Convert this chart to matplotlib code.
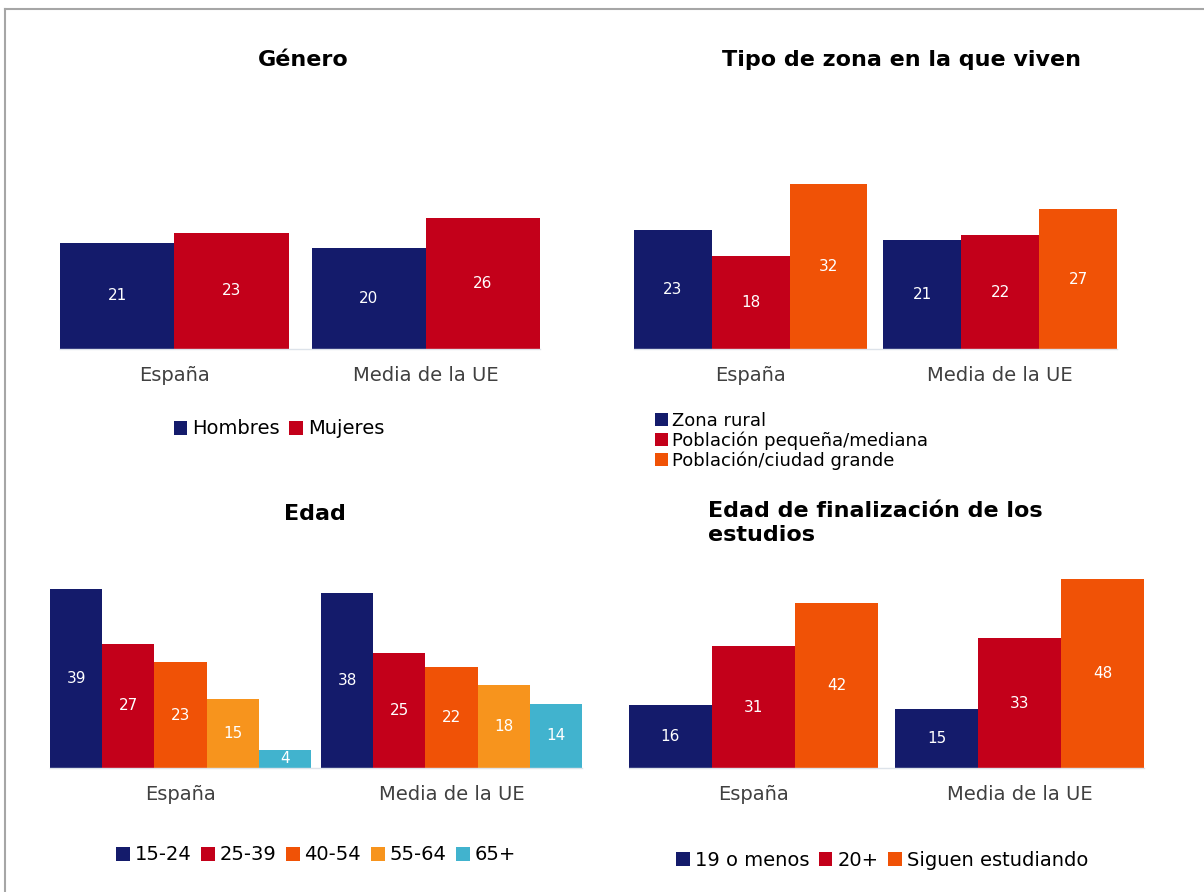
#---- Imports ----------------------------------------------------------------#

import numpy as np
import matplotlib
matplotlib.use('Agg')
import matplotlib.pyplot as plt
from matplotlib.patches import Patch
from matplotlib.lines import Line2D

#---- Data -------------------------------------------------------------------#

grupos = ['España', 'Media de la UE']

genero_series = ['Hombres', 'Mujeres']
genero_vals = [[21, 20], [23, 26]]

zona_series = ['Zona rural', 'Población pequeña/mediana', 'Población/ciudad grande']
zona_vals = [[23, 21], [18, 22], [32, 27]]

edad_series = ['15-24', '25-39', '40-54', '55-64', '65+']
edad_vals = [[39, 38], [27, 25], [23, 22], [15, 18], [4, 14]]

estudios_series = ['19 o menos', '20+', 'Siguen estudiando']
estudios_vals = [[16, 15], [31, 33], [42, 48]]

#---- Style ------------------------------------------------------------------#

NAVY = '#141B6B'
RED = '#C3001A'
ORANGE = '#F05206'
LORANGE = '#F7941D'
CYAN = '#41B3CE'

W, H = 1204, 892                        #Figure size in pixels

plt.rcParams['font.family'] = ['DejaVu Sans']

fig = plt.figure(figsize=(W/100, H/100), dpi=100)

#---- Helper: one panel of grouped bars, placed in pixel coords -------------#

def panel(vals, colors, left, right, gap, base, scale, ymax=50):
    n = len(vals)
    total = right - left
    group_px = (total - gap) / 2.0
    spacing = group_px + gap                #1 data unit in pixels
    w = group_px / n / spacing              #Bar width in data units
    half = n * w / 2.0
    ax = fig.add_axes([left/W, (H-base)/H, total/W, ymax*scale/H])
    ax.set_xlim(-half, 1 + half)
    ax.set_ylim(0, ymax)
    x0 = np.arange(len(grupos))
    for i, v in enumerate(vals):
        x = x0 + (i - (n - 1) / 2.0) * w
        bars = ax.bar(x, v, w, color=colors[i], linewidth=0)
        for b, val in zip(bars, v):
            ax.text(b.get_x() + b.get_width()/2, val/2.0, str(val),
                    ha='center', va='center', color='white', fontsize=11)
    ax.set_xticks(x0, grupos)
    ax.tick_params(axis='x', length=0, pad=12, labelsize=14, labelcolor='#404040')
    ax.set_yticks([])
    for s in ['top', 'right', 'left']:
        ax.spines[s].set_visible(False)
    ax.spines['bottom'].set_color('#DDE3EA')
    ax.spines['bottom'].set_linewidth(1)
    ax.patch.set_alpha(0)
    return ax

def legend(labels, colors, x, y, ncol, loc='center', size=14, spacing=0.5):
    handles = [Patch(facecolor=c, edgecolor='none') for c in colors]
    fig.legend(handles, labels, loc=loc, bbox_to_anchor=(x/W, 1 - y/H),
               ncol=ncol, frameon=False, fontsize=size,
               handlelength=0.7, handleheight=0.7, handletextpad=0.25,
               columnspacing=0.5, labelspacing=spacing, borderaxespad=0,
               borderpad=0)

#---- Panels -----------------------------------------------------------------#

panel(genero_vals, [NAVY, RED], 60, 540, 23, 349, 5.05)
fig.text(303/W, 1 - 60/H, 'Género', ha='center', va='center',
         fontsize=16, fontweight='bold')
legend(genero_series, [NAVY, RED], 279, 429, 2)

panel(zona_vals, [NAVY, RED, ORANGE], 634, 1117, 16, 349, 5.17)
fig.text(902/W, 1 - 60/H, 'Tipo de zona en la que viven', ha='center',
         va='center', fontsize=16, fontweight='bold')
legend(zona_series, [NAVY, RED, ORANGE], 655, 441, 1, loc='center left',
       size=13, spacing=0.08)

panel(edad_vals, [NAVY, RED, ORANGE, LORANGE, CYAN], 50, 582, 10, 768, 4.6)
fig.text(315/W, 1 - 514/H, 'Edad', ha='center', va='center',
         fontsize=16, fontweight='bold')
legend(edad_series, [NAVY, RED, ORANGE, LORANGE, CYAN], 316, 855, 5)

panel(estudios_vals, [NAVY, RED, ORANGE], 629, 1144, 17, 768, 3.93)
fig.text(708/W, 1 - 523/H, 'Edad de finalización de los\nestudios',
         ha='left', va='center', fontsize=16, fontweight='bold',
         linespacing=1.3)
legend(estudios_series, [NAVY, RED, ORANGE], 882, 860, 3)

#---- Frame (left and top grey border) --------------------------------------#

fig.add_artist(Line2D([5/W, 5/W], [0, 1 - 9/H], color='#A6A6A6', lw=1.5))
fig.add_artist(Line2D([5/W, 1], [1 - 9/H, 1 - 9/H], color='#A6A6A6', lw=1.5))

plt.savefig('out.png', dpi=100)
